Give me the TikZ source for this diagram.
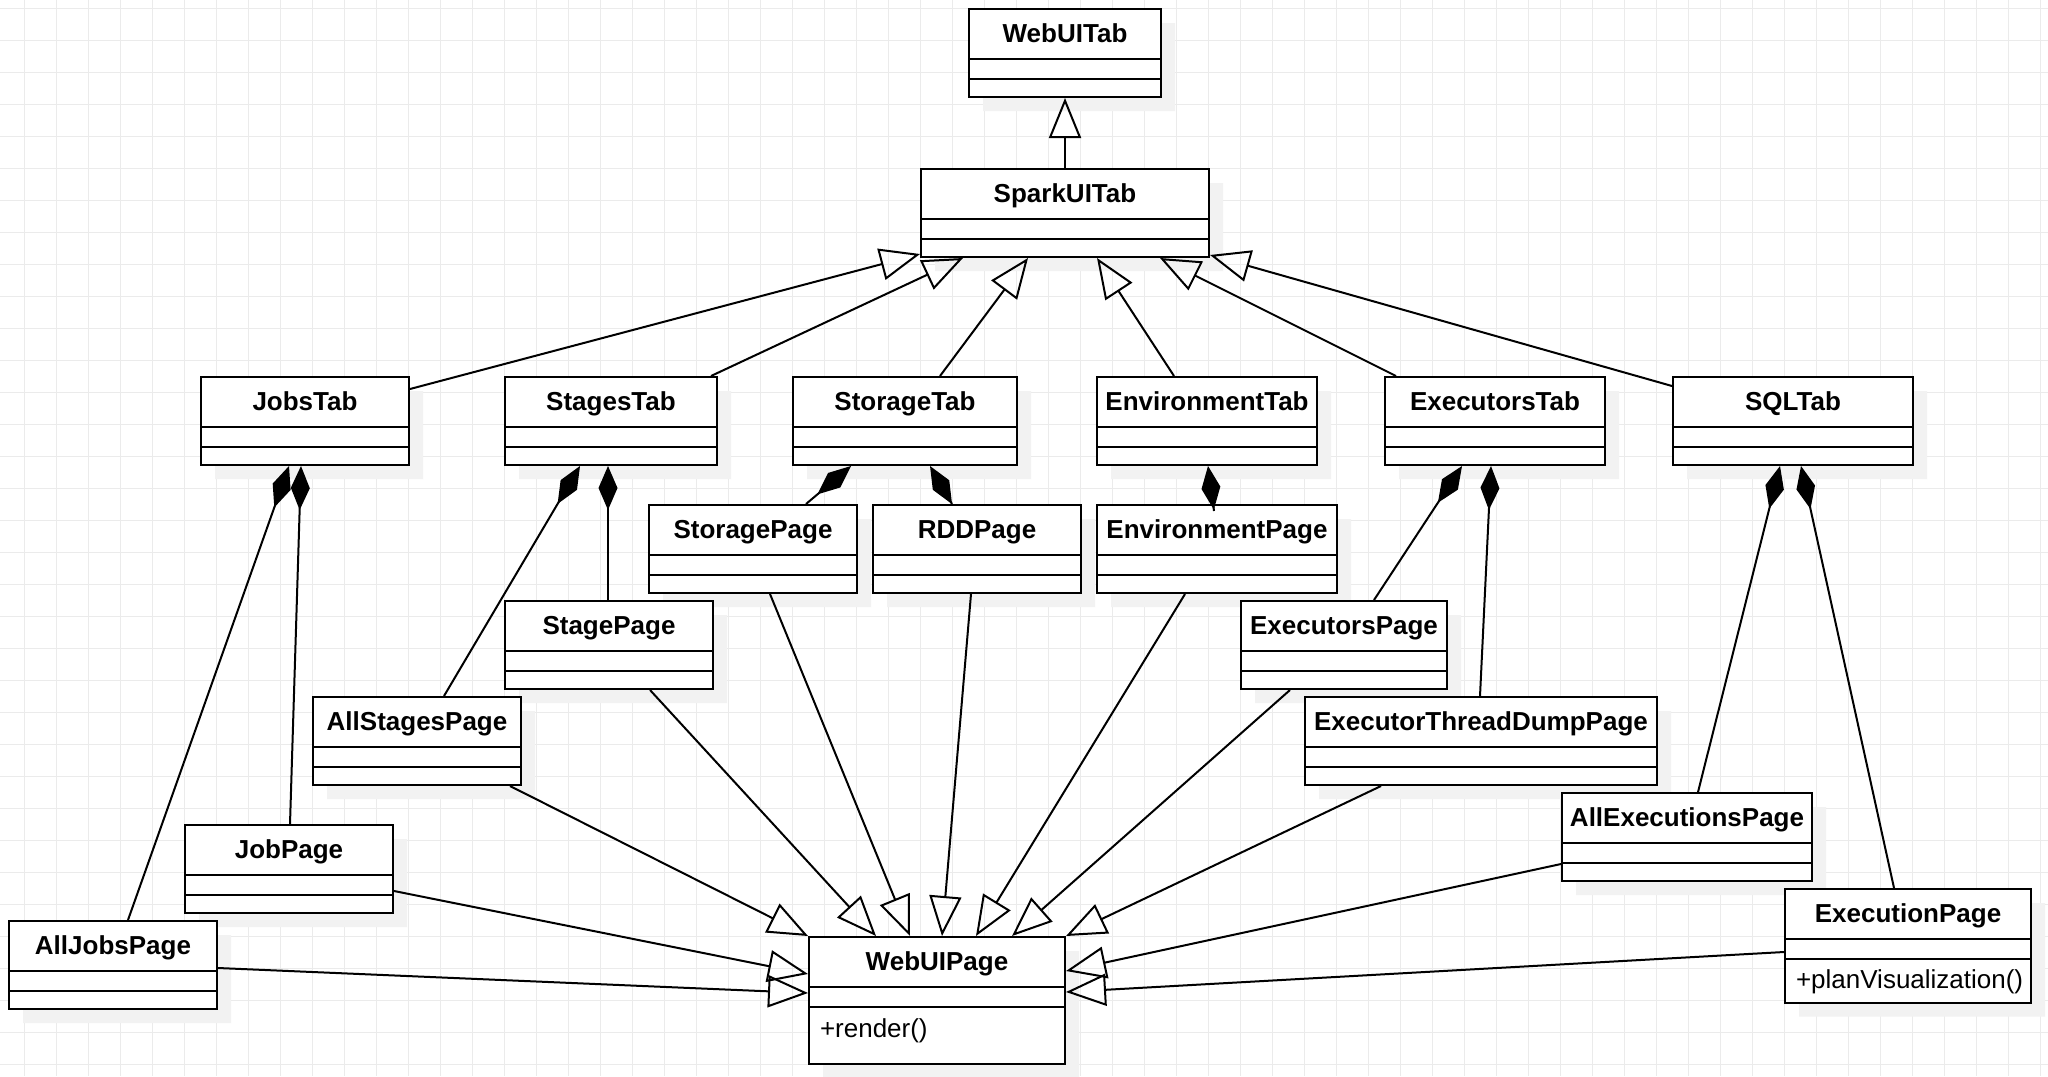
\documentclass[tikz,border=0pt]{standalone}
\usepackage{fontspec}
\setmainfont{Liberation Sans}
\usepackage{tikz}
\usetikzlibrary{shapes.multipart,arrows.meta,shadows,calc}

% header of a class box, then the two empty compartments
\newcommand{\clsname}[1]{\rule[-7.8pt]{0pt}{24pt}\textbf{#1}}
\newcommand{\cls}[1]{\clsname{#1}\nodepart{two}\rule{0pt}{9pt}\nodepart{three}\rule{0pt}{8pt}}

\begin{document}
\begin{tikzpicture}[
    x=0.5pt, y=-0.5pt,
    umlclass/.style={
        draw,
        fill=white,
        line width=1pt,
        rectangle split,
        rectangle split parts=3,
        rectangle split part align={center,center,left},
        anchor=north west,
        inner xsep=2pt,
        inner ysep=0pt,
        font=\fontsize{13pt}{15.6pt}\selectfont,
        drop shadow={shadow xshift=7pt, shadow yshift=-7pt, fill=black!5, opacity=1}
    },
    extends/.style={
        -{Triangle[open, length=20pt, width=16pt]},
        line width=1pt
    },
    owns/.style={
        {Diamond[length=22pt, width=9.5pt]}-,
        line width=1pt
    },
    gridline/.style={
        draw=black!8,
        line width=0.65pt
    }
]
    % Canvas and grid
    \path[use as bounding box, fill=white] (0,0) rectangle (2048,1076);
    \foreach \k in {0,...,63}
        \draw[gridline] (24.3+32*\k,0) -- (24.3+32*\k,1076);
    \foreach \k in {0,...,33}
        \draw[gridline] (0,8.3+32*\k) -- (2048,8.3+32*\k);

    % Base tab classes
    \node[umlclass, minimum width=96pt] (webuitab) at (968,8) {\cls{WebUITab}};
    \node[umlclass, minimum width=144pt] (sparkuitab) at (920,168) {\cls{SparkUITab}};

    % Tabs
    \node[umlclass, minimum width=104pt] (jobstab) at (200,376) {\cls{JobsTab}};
    \node[umlclass, minimum width=106pt] (stagestab) at (504,376) {\cls{StagesTab}};
    \node[umlclass, minimum width=112pt] (storagetab) at (792,376) {\cls{StorageTab}};
    \node[umlclass, minimum width=110pt] (envtab) at (1096,376) {\cls{EnvironmentTab}};
    \node[umlclass, minimum width=110pt] (executorstab) at (1384,376) {\cls{ExecutorsTab}};
    \node[umlclass, minimum width=120pt] (sqltab) at (1672,376) {\cls{SQLTab}};

    % Pages
    \node[umlclass, minimum width=104pt] (storagepage) at (648,504) {\cls{StoragePage}};
    \node[umlclass, minimum width=104pt] (rddpage) at (872,504) {\cls{RDDPage}};
    \node[umlclass, minimum width=120pt] (envpage) at (1096,504) {\cls{EnvironmentPage}};
    \node[umlclass, minimum width=104pt] (stagepage) at (504,600) {\cls{StagePage}};
    \node[umlclass, minimum width=103pt] (executorspage) at (1240,600) {\cls{ExecutorsPage}};
    \node[umlclass, minimum width=104pt] (allstagespage) at (312,696) {\cls{AllStagesPage}};
    \node[umlclass, minimum width=176pt] (threaddumppage) at (1304,696) {\cls{ExecutorThreadDumpPage}};
    \node[umlclass, minimum width=125pt] (allexecutionspage) at (1561,792) {\cls{AllExecutionsPage}};
    \node[umlclass, minimum width=104pt] (jobpage) at (184,824) {\cls{JobPage}};
    \node[umlclass, minimum width=123pt] (executionpage) at (1784,888) {\clsname{ExecutionPage}\nodepart{two}\rule{0pt}{9pt}\nodepart{three}\hspace*{3.5pt}+planVisualization()\rule[-6.5pt]{0pt}{20.8pt}};
    \node[umlclass, minimum width=104pt] (alljobspage) at (8,920) {\cls{AllJobsPage}};

    % Base page class
    \node[umlclass, minimum width=128pt] (webuipage) at (808,936) {\clsname{WebUIPage}\nodepart{two}\rule{0pt}{9pt}\nodepart{three}\hspace*{3.5pt}+render()\rule[-13pt]{0pt}{27.5pt}};

    % Tabs extend SparkUITab
    \draw[extends] (sparkuitab.north) -- (webuitab.south);
    \draw[extends] ($(jobstab.north east)+(0,13)$) -- ($(sparkuitab.south west)+(0,-4)$);
    \draw[extends] ($(stagestab.north east)+(-7,0)$) -- ($(sparkuitab.south west)+(43,0)$);
    \draw[extends] ($(storagetab.north west)+(148,0)$) -- ($(sparkuitab.south west)+(108,0)$);
    \draw[extends] ($(envtab.north west)+(78,0)$) -- ($(sparkuitab.south west)+(177,0)$);
    \draw[extends] ($(executorstab.north west)+(12,0)$) -- ($(sparkuitab.south west)+(240,0)$);
    \draw[extends] ($(sqltab.north west)+(0,10)$) -- ($(sparkuitab.south east)+(0,-3)$);

    % Tabs own their pages
    \draw[owns] ($(jobstab.south west)+(89,0)$) -- ($(alljobspage.north west)+(120,0)$);
    \draw[owns] ($(jobstab.south west)+(101,0)$) -- ($(jobpage.north west)+(106,0)$);
    \draw[owns] ($(stagestab.south west)+(76,0)$) -- ($(allstagespage.north west)+(132,0)$);
    \draw[owns] ($(stagestab.south west)+(104,0)$) -- ($(stagepage.north west)+(104,0)$);
    \draw[owns] ($(storagetab.south west)+(59,0)$) -- ($(storagepage.north west)+(158,0)$);
    \draw[owns] ($(storagetab.south west)+(138,0)$) -- ($(rddpage.north west)+(80,0)$);
    \draw[owns] ($(envtab.south west)+(112,0)$) -- ($(envpage.north west)+(118,7)$);
    \draw[owns] ($(executorstab.south west)+(78,0)$) -- ($(executorspage.north west)+(134,0)$);
    \draw[owns] ($(executorstab.south west)+(107,0)$) -- ($(threaddumppage.north west)+(176,0)$);
    \draw[owns] ($(sqltab.south west)+(108,0)$) -- ($(allexecutionspage.north west)+(137,0)$);
    \draw[owns] ($(sqltab.south west)+(129,0)$) -- ($(executionpage.north west)+(110,0)$);

    % Pages extend WebUIPage
    \draw[extends] ($(allstagespage.south east)+(-12,0)$) -- (webuipage.north west);
    \draw[extends] ($(stagepage.south west)+(146,0)$) -- ($(webuipage.north west)+(68,0)$);
    \draw[extends] ($(storagepage.south west)+(122,0)$) -- ($(webuipage.north west)+(102,0)$);
    \draw[extends] ($(rddpage.south west)+(99,0)$) -- ($(webuipage.north west)+(134,0)$);
    \draw[extends] ($(envpage.south west)+(89,0)$) -- ($(webuipage.north west)+(168,0)$);
    \draw[extends] ($(executorspage.south west)+(50,0)$) -- ($(webuipage.north west)+(204,0)$);
    \draw[extends] ($(threaddumppage.south west)+(77,0)$) -- (webuipage.north east);
    \draw[extends] ($(jobpage.north east)+(0,67)$) -- ($(webuipage.north west)+(0,38)$);
    \draw[extends] ($(alljobspage.north east)+(0,48)$) -- ($(webuipage.north west)+(0,57)$);
    \draw[extends] ($(allexecutionspage.north west)+(0,72)$) -- ($(webuipage.north east)+(0,35)$);
    \draw[extends] ($(executionpage.north west)+(0,64)$) -- ($(webuipage.north east)+(0,56)$);

\end{tikzpicture}
\end{document}
